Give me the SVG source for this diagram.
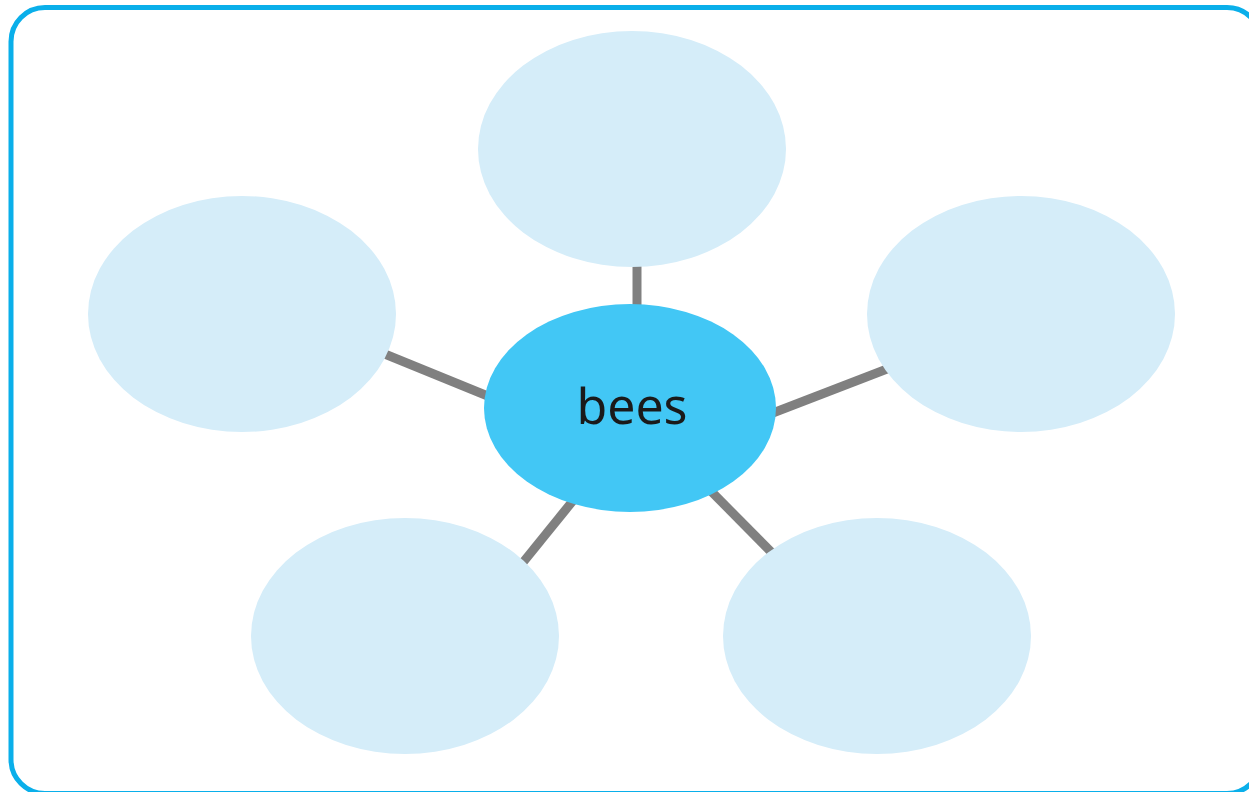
<svg xmlns="http://www.w3.org/2000/svg" width="1249" height="792" viewBox="0 0 1249 792">
<style>
.leaf{fill:#d5edf9}
.hub{fill:#42c7f5}
.conn line{stroke:#808080;stroke-width:9}
.lbl{font-family:"Noto Sans","Open Sans",sans-serif;font-size:50px;fill:#1a1a1a;text-anchor:middle}
</style>
<rect x="0" y="0" width="1249" height="792" fill="#ffffff"/>
<rect x="11" y="7.5" width="1250" height="786" rx="34" ry="34" fill="none" stroke="#0aafea" stroke-width="5"/>
<g id="connectors" class="conn">
<line x1="637" y1="250" x2="637" y2="320"/>
<line x1="370" y1="348" x2="500" y2="401"/>
<line x1="765" y1="416" x2="900" y2="364"/>
<line x1="580" y1="492" x2="512" y2="576"/>
<line x1="700" y1="480" x2="785" y2="566"/>
</g>
<g id="node-top"><ellipse class="leaf" cx="632" cy="149" rx="154" ry="118"/></g>
<g id="node-left"><ellipse class="leaf" cx="242" cy="314" rx="154" ry="118"/></g>
<g id="node-right"><ellipse class="leaf" cx="1021" cy="314" rx="154" ry="118"/></g>
<g id="node-bottom-left"><ellipse class="leaf" cx="405" cy="636" rx="154" ry="118"/></g>
<g id="node-bottom-right"><ellipse class="leaf" cx="877" cy="636" rx="154" ry="118"/></g>
<g id="node-center"><ellipse class="hub" cx="630" cy="408" rx="146" ry="104"/>
<text class="lbl" x="632" y="424">bees</text></g>
</svg>
